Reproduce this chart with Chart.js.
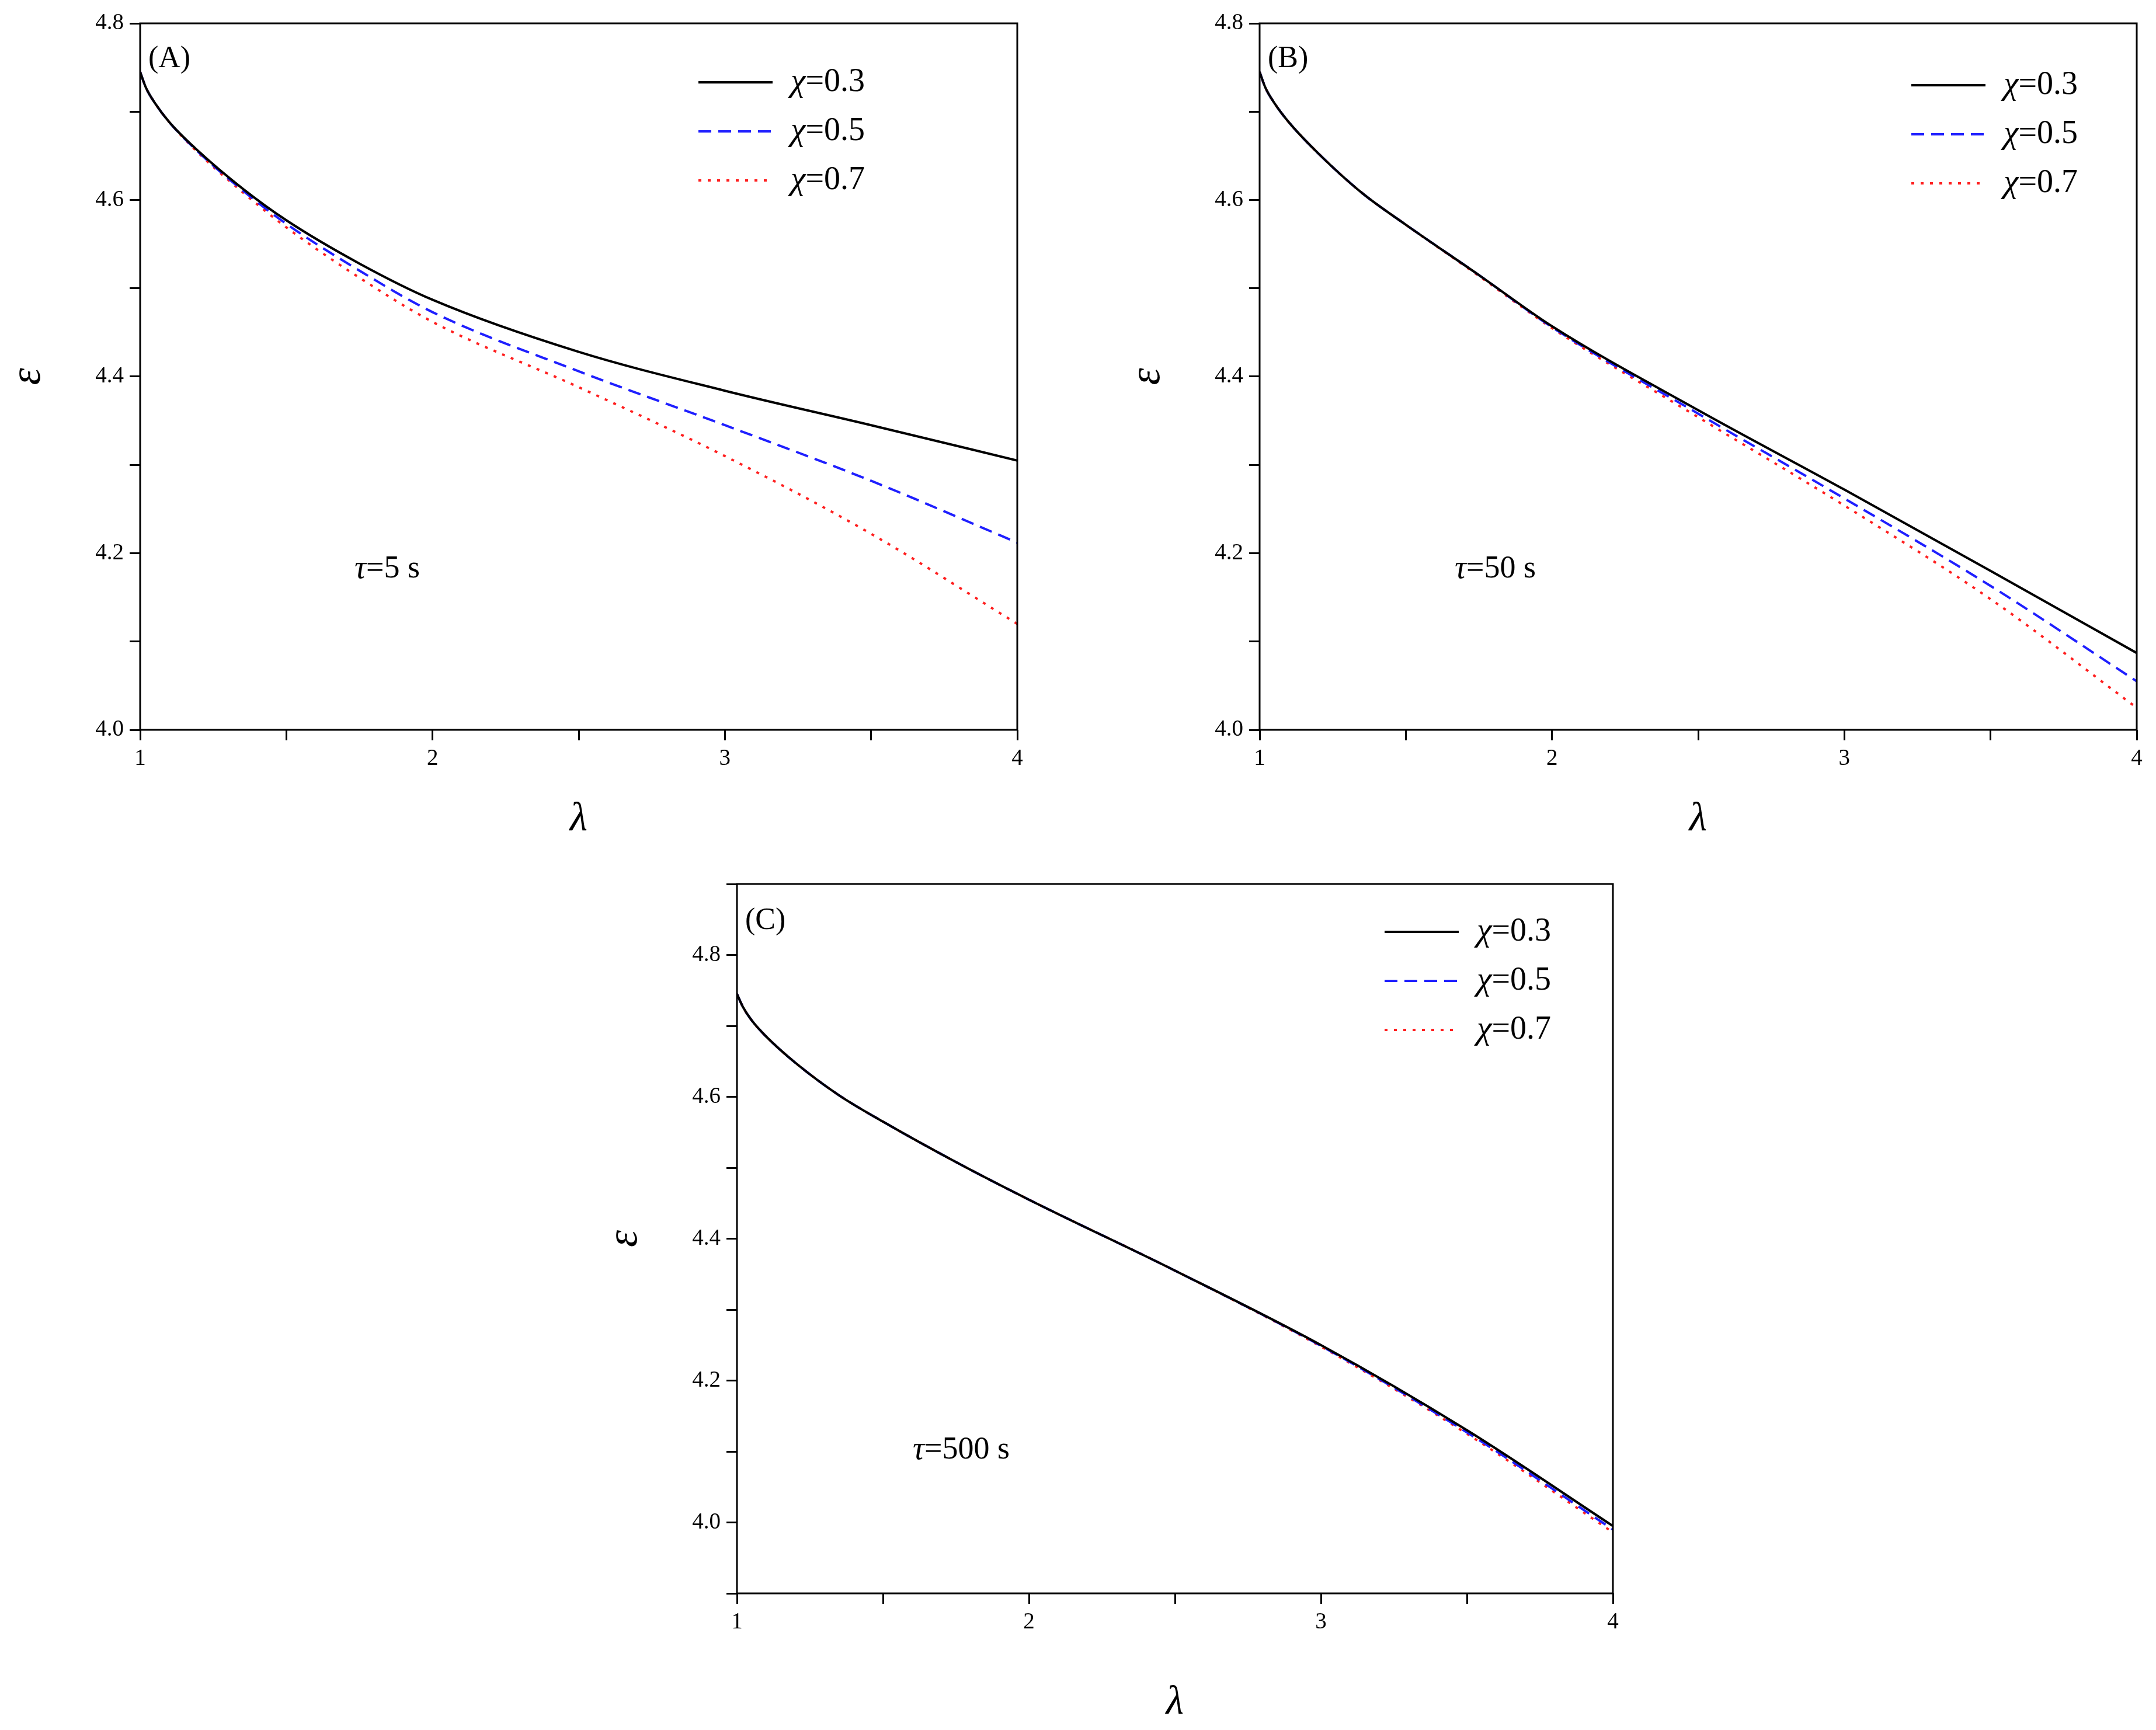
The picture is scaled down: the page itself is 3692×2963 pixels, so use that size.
<!DOCTYPE html>
<html><head><meta charset="utf-8">
<script src="https://cdn.jsdelivr.net/npm/chart.js@4.4.0/dist/chart.umd.min.js"></script>
<style>body{margin:0;background:#fff;width:3692px;height:2963px;position:relative;overflow:hidden}
.c{position:absolute}</style></head><body>
<div class="c" id="dA" style="left:0;top:0;width:1762px;height:1450px"><canvas id="cA"></canvas></div>
<div class="c" id="dB" style="left:1917px;top:0;width:1762px;height:1450px"><canvas id="cB"></canvas></div>
<div class="c" id="dC" style="left:1022px;top:1474px;width:1760px;height:1489px"><canvas id="cC"></canvas></div>
<script>
const lambda = [1, 1.02, 1.05, 1.1, 1.2, 1.35, 1.5, 1.75, 2, 2.5, 3, 3.5, 4];
const A_03 = [4.745, 4.727, 4.710, 4.688, 4.655, 4.613, 4.577, 4.528, 4.487, 4.428, 4.384, 4.345, 4.305];
const A_05 = [4.745, 4.727, 4.710, 4.688, 4.654, 4.611, 4.573, 4.520, 4.473, 4.406, 4.345, 4.282, 4.212];
const A_07 = [4.745, 4.727, 4.710, 4.688, 4.653, 4.609, 4.569, 4.512, 4.462, 4.388, 4.310, 4.222, 4.120];
const B_03 = [4.745, 4.727, 4.710, 4.688, 4.653, 4.608, 4.572, 4.515, 4.457, 4.362, 4.272, 4.180, 4.087];
const B_05 = [4.745, 4.727, 4.710, 4.688, 4.653, 4.608, 4.572, 4.515, 4.456, 4.358, 4.262, 4.163, 4.055];
const B_07 = [4.745, 4.727, 4.710, 4.688, 4.653, 4.608, 4.572, 4.514, 4.455, 4.354, 4.254, 4.148, 4.025];
const C_03 = [4.745, 4.727, 4.708, 4.685, 4.648, 4.602, 4.565, 4.508, 4.455, 4.355, 4.250, 4.130, 3.995];
const C_05 = [4.745, 4.727, 4.708, 4.685, 4.648, 4.602, 4.565, 4.508, 4.455, 4.355, 4.249, 4.127, 3.990];
const C_07 = [4.745, 4.727, 4.708, 4.685, 4.648, 4.602, 4.565, 4.508, 4.455, 4.355, 4.248, 4.125, 3.986];
const chiLabels = ['0.3', '0.5', '0.7'];
const xTicks = [1, 2, 3, 4];

const SERIF = '"Liberation Serif", "DejaVu Serif", serif';
const styles = [
  {color:'#000000', dash:[]},
  {color:'#1f1fff', dash:[22,12]},
  {color:'#ff1f1f', dash:[5,11]}
];

function make(id, series, ymin, ymax, panel, tau, leg, ann, xh) {
  const datasets = series.map((s,i)=>({
    data: lambda.map((x,j)=>({x, y:s[j]})),
    borderColor: styles[i].color, borderDash: styles[i].dash,
    borderWidth: 4, pointRadius: 0, cubicInterpolationMode:'monotone', fill:false
  }));
  const deco = {
    id:'deco',
    afterDraw(ch){
      const c = ch.ctx, a = ch.chartArea;
      c.save();
      c.strokeStyle='#000'; c.lineWidth=3; c.setLineDash([]);
      c.strokeRect(a.left, a.top, a.right-a.left, a.bottom-a.top);
      for (let i=0;i<3;i++){
        const y = a.top + leg.y0 + i*leg.dy;
        c.strokeStyle=styles[i].color; c.lineWidth=4; c.setLineDash(styles[i].dash);
        c.beginPath(); c.moveTo(a.left+leg.x0, y); c.lineTo(a.left+leg.x0+127, y); c.stroke();
        c.setLineDash([]);
        c.fillStyle='#000'; c.textBaseline='middle'; c.textAlign='left';
        c.font='italic 58px '+SERIF;
        const tx = a.left+leg.x0+158;
        c.fillText('χ', tx, y);
        const w = c.measureText('χ').width;
        c.font='56px '+SERIF;
        c.fillText('=' + chiLabels[i], tx+w, y);
      }
      c.fillStyle='#000'; c.textBaseline='middle'; c.textAlign='left';
      c.font='52px '+SERIF;
      c.fillText('('+panel+')', a.left+14, a.top+ann.py);
      c.font='italic 56px '+SERIF;
      const tx = a.left+ann.tx, ty = a.top+ann.ty;
      c.fillText('τ', tx, ty);
      const w = c.measureText('τ').width;
      c.font='54px '+SERIF;
      c.fillText('=' + tau + ' s', tx+w, ty);
      c.restore();
    }
  };
  new Chart(document.getElementById(id), {
    type:'line',
    data:{datasets},
    plugins:[deco],
    options:{
      responsive:true, maintainAspectRatio:false, animation:false,
      layout:{padding:{top:40,right:20,left:0,bottom:0}},
      plugins:{legend:{display:false}, tooltip:{enabled:false}},
      scales:{
        x:{type:'linear', min:1, max:4,
          afterFit(s){s.height=xh;},
          afterBuildTicks(s){s.ticks=[1,1.5,2,2.5,3,3.5,4].map(v=>({value:v}));},
          grid:{drawOnChartArea:false, tickLength:18, color:'#000', lineWidth:3},
          border:{display:false},
          ticks:{color:'#000', font:{family:SERIF,size:39}, padding:8, maxRotation:0,
            callback:v=> xTicks.includes(v)? String(v):''},
          title:{display:true, text:'λ', color:'#000', font:{family:SERIF,size:70,style:'italic'}, padding:{top:36}}
        },
        y:{type:'linear', min:ymin, max:ymax,
          afterFit(s){s.width=240;},
          afterBuildTicks(s){const t=[];for(let k=Math.round(ymin*10);k<=Math.round(ymax*10);k++)t.push({value:k/10});s.ticks=t;},
          grid:{drawOnChartArea:false, tickLength:18, color:'#000', lineWidth:3},
          border:{display:false},
          ticks:{color:'#000', font:{family:SERIF,size:39}, padding:10,
            callback:v=> Math.round(v*10)%2===0 ? v.toFixed(1) : ''},
          title:{display:true, text:'ε', color:'#000', font:{family:SERIF,size:74,style:'italic'}, padding:{bottom:20}}
        }
      }
    }
  });
}
make('cA',[A_03,A_05,A_07],4.0,4.8,'A','5',{x0:956,y0:101,dy:84},{py:61,tx:367,ty:935},200);
make('cB',[B_03,B_05,B_07],4.0,4.8,'B','50',{x0:1116,y0:106,dy:84},{py:61,tx:334,ty:935},200);
make('cC',[C_03,C_05,C_07],3.9,4.9,'C','500',{x0:1109,y0:82,dy:84},{py:63,tx:301,ty:970},234);
</script></body></html>
